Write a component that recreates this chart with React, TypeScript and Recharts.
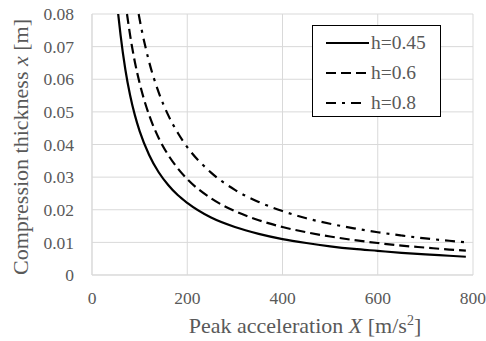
import React from "react";
import { LineChart, Line, XAxis, YAxis, CartesianGrid, Label } from "recharts";

// peak acceleration X [m/s2]
const accH045 = [55, 60, 70, 80, 90, 100, 120, 140, 160, 180, 200, 250, 300, 350, 400, 450, 500, 550, 600, 650, 700, 750, 785];
const thkH045 = [0.08, 0.0735, 0.063, 0.0551, 0.049, 0.0441, 0.0368, 0.0315, 0.0276, 0.0245, 0.0221, 0.0176, 0.0147, 0.0126, 0.011, 0.0098, 0.0088, 0.008, 0.0074, 0.0068, 0.0063, 0.0059, 0.0056];

const accH06 = [73.5, 80, 90, 100, 120, 140, 160, 180, 200, 250, 300, 350, 400, 450, 500, 550, 600, 650, 700, 750, 785];
const thkH06 = [0.08, 0.0735, 0.0653, 0.0588, 0.049, 0.042, 0.0368, 0.0327, 0.0294, 0.0235, 0.0196, 0.0168, 0.0147, 0.0131, 0.0118, 0.0107, 0.0098, 0.009, 0.0084, 0.0078, 0.0075];

const accH08 = [98, 100, 120, 140, 160, 180, 200, 250, 300, 350, 400, 450, 500, 550, 600, 650, 700, 750, 785];
const thkH08 = [0.08, 0.0784, 0.0653, 0.056, 0.049, 0.0436, 0.0392, 0.0314, 0.0261, 0.0224, 0.0196, 0.0174, 0.0157, 0.0143, 0.0131, 0.0121, 0.0112, 0.0105, 0.01];

const xTicks = [0, 200, 400, 600, 800];
const yTicks = [0, 0.01, 0.02, 0.03, 0.04, 0.05, 0.06, 0.07, 0.08];

const toPoints = (xs: number[], ys: number[]) => xs.map((x, i) => ({ x, y: ys[i] }));

const series = [
  { name: "h=0.45", data: toPoints(accH045, thkH045), dash: undefined as string | undefined, sample: 43 },
  { name: "h=0.6", data: toPoints(accH06, thkH06), dash: "10 5", sample: 43 },
  { name: "h=0.8", data: toPoints(accH08, thkH08), dash: "10 6 3 6", sample: 35 },
];

const FONT = "'Liberation Serif', 'Times New Roman', serif";
const GRAY = "#595959";

const YTitle = () => (
  <text
    x={28}
    y={147}
    transform="rotate(-90, 28, 147)"
    textAnchor="middle"
    fontFamily={FONT}
    fontSize={22}
    fill={GRAY}
  >
    Compression thickness <tspan fontStyle="italic">x</tspan> [m]
  </text>
);

const XTitle = () => (
  <text x={305} y={333} textAnchor="middle" fontFamily={FONT} fontSize={22} fill={GRAY}>
    Peak acceleration <tspan fontStyle="italic">X</tspan> [m/s<tspan fontSize={14} dy={-8}>2</tspan>
    <tspan dy={8}>]</tspan>
  </text>
);

export default function App() {
  return (
    <div style={{ position: "absolute", left: 0, top: 0, width: 486, height: 341, background: "#fff" }}>
      <LineChart width={486} height={341} margin={{ top: 14, right: 13, left: 0, bottom: 0 }}>
        <CartesianGrid stroke="#d9d9d9" strokeWidth={1} />
        <XAxis
          type="number"
          dataKey="x"
          domain={[0, 800]}
          ticks={xTicks}
          height={66}
          tickLine={false}
          tickSize={0}
          tickMargin={17}
          axisLine={{ stroke: "#d9d9d9" }}
          tick={{ fontFamily: FONT, fontSize: 17.5, fill: GRAY }}
        >
          <Label content={XTitle} />
        </XAxis>
        <YAxis
          type="number"
          domain={[0, 0.08]}
          ticks={yTicks}
          width={92}
          tickLine={false}
          tickSize={0}
          tickMargin={18}
          axisLine={{ stroke: "#d9d9d9" }}
          tickFormatter={(v: number) => (v === 0 ? "0" : v.toFixed(2))}
          tick={{ fontFamily: FONT, fontSize: 17.5, fill: GRAY }}
        >
          <Label content={YTitle} />
        </YAxis>
        {series.map((s) => (
          <Line
            key={s.name}
            data={s.data}
            dataKey="y"
            name={s.name}
            type="monotone"
            stroke="#000"
            strokeWidth={2.2}
            strokeDasharray={s.dash}
            dot={false}
            activeDot={false}
            isAnimationActive={false}
          />
        ))}
      </LineChart>
      <div
        style={{
          position: "absolute",
          left: 312,
          top: 25,
          width: 127,
          height: 90,
          border: "1.5px solid #000",
          background: "#fff",
          boxSizing: "content-box",
        }}
      >
        {series.map((s, i) => (
          <div
            key={s.name}
            style={{ position: "absolute", left: 0, top: 4 + i * 30, height: 26, display: "flex", alignItems: "center" }}
          >
            <svg width={58} height={26} style={{ display: "block" }}>
              <line x1={13} y1={13} x2={13 + s.sample} y2={13} stroke="#000" strokeWidth={2.2} strokeDasharray={s.dash} />
            </svg>
            <span style={{ fontFamily: FONT, fontSize: 19.5, color: GRAY, lineHeight: "26px" }}>{s.name}</span>
          </div>
        ))}
      </div>
    </div>
  );
}
